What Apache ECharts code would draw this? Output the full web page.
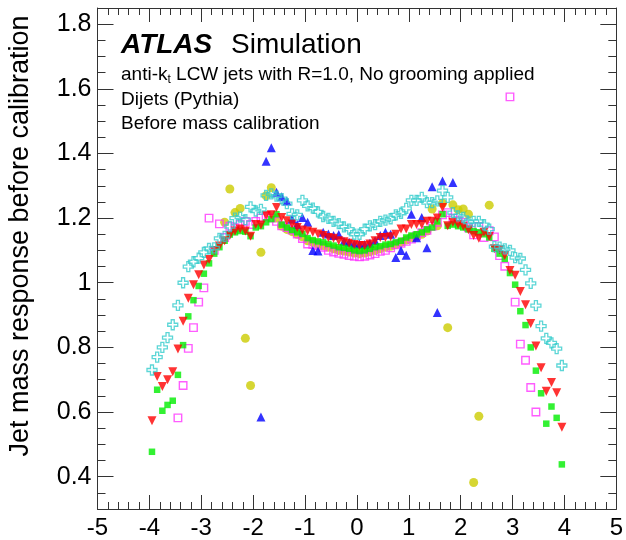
<!DOCTYPE html>
<html>
<head>
    <meta charset="utf-8" />
    <script src="https://cdn.jsdelivr.net/npm/echarts@6/dist/echarts.min.js"></script>
    <style>
        html, body { margin: 0; padding: 0; background: #fff; }
    </style>
</head>
<body>
    <div id="main" style="width:626px;height:540px;"></div>
    <script>
        // eta bin centres
        var eta = [-3.95, -3.85, -3.75, -3.65, -3.55, -3.45, -3.35, -3.25, -3.15, -3.05,
            -2.95, -2.85, -2.75, -2.65, -2.55, -2.45, -2.35, -2.25, -2.15, -2.05,
            -1.95, -1.85, -1.75, -1.65, -1.55, -1.45, -1.35, -1.25, -1.15, -1.05,
            -0.95, -0.85, -0.75, -0.65, -0.55, -0.45, -0.35, -0.25, -0.15, -0.05,
            0.05, 0.15, 0.25, 0.35, 0.45, 0.55, 0.65, 0.75, 0.85, 0.95,
            1.05, 1.15, 1.25, 1.35, 1.45, 1.55, 1.65, 1.75, 1.85, 1.95,
            2.05, 2.15, 2.25, 2.35, 2.45, 2.55, 2.65, 2.75, 2.85, 2.95,
            3.05, 3.15, 3.25, 3.35, 3.45, 3.55, 3.65, 3.75, 3.85, 3.95];

        var cyanVals = [0.730, 0.770, 0.800, 0.830, 0.870, 0.930, 1.000, 1.050, 1.065, 1.076,
            1.094, 1.106, 1.108, 1.137, 1.143, 1.174, 1.200, 1.203, 1.195, 1.235,
            1.222, 1.227, 1.270, 1.275, 1.268, 1.260, 1.245, 1.213, 1.210, 1.255,
            1.238, 1.231, 1.219, 1.205, 1.199, 1.190, 1.183, 1.173, 1.166, 1.150,
            1.150, 1.166, 1.176, 1.180, 1.190, 1.194, 1.198, 1.210, 1.215, 1.230,
            1.255, 1.255, 1.264, 1.248, 1.248, 1.253, 1.285, 1.264, 1.217, 1.207,
            1.202, 1.188, 1.190, 1.190, 1.180, 1.166, 1.112, 1.110, 1.105, 1.100,
            1.078, 1.075, 1.040, 0.998, 0.929, 0.866, 0.828, 0.814, 0.796, 0.744];

        var magentaVals = [null, null, null, null, null, 0.582, 0.682, 0.797, 0.861, 0.940,
            0.984, 1.200, 1.100, 1.182, 1.140, 1.175, 1.170, 1.180, 1.190, 1.180,
            1.190, 1.200, 1.205, 1.200, 1.190, 1.176, 1.171, 1.163, 1.151, 1.137,
            1.120, 1.118, 1.115, 1.110, 1.100, 1.095, 1.091, 1.088, 1.084, 1.082,
            1.080, 1.082, 1.086, 1.090, 1.097, 1.100, 1.108, 1.117, 1.122, 1.128,
            1.135, 1.145, 1.155, 1.162, 1.175, 1.187, 1.210, 1.217, 1.200, 1.192,
            1.187, 1.170, 1.148, 1.174, 1.140, 1.161, 1.142, 1.084, 1.051, 1.575,
            0.940, 0.810, 0.760, 0.676, 0.600, null, null, null, null, null];

        var redVals = [0.573, 0.710, 0.679, 0.700, 0.725, 0.795, 0.881, 0.952, 0.994, 1.025,
            1.055, 1.072, 1.100, 1.114, 1.130, 1.146, 1.160, 1.166, 1.160, 1.144,
            1.180, 1.179, 1.208, 1.210, 1.233, 1.202, 1.192, 1.182, 1.171, 1.163,
            1.160, 1.156, 1.151, 1.146, 1.140, 1.138, 1.130, 1.127, 1.122, 1.118,
            1.115, 1.115, 1.120, 1.130, 1.140, 1.140, 1.142, 1.150, 1.166, 1.166,
            1.180, 1.180, 1.180, 1.190, 1.190, 1.200, 1.233, 1.176, 1.187, 1.180,
            1.175, 1.164, 1.146, 1.138, 1.156, 1.143, 1.105, 1.102, 1.084, 1.038,
            1.023, 0.973, 0.932, 0.874, 0.804, 0.737, 0.664, 0.691, 0.660, 0.553];

        var greenVals = [0.477, 0.669, 0.604, 0.622, 0.635, 0.715, 0.807, 0.896, 0.946, 0.990,
            1.028, 1.060, 1.090, 1.110, 1.130, 1.149, 1.156, 1.160, 1.158, 1.144,
            1.171, 1.175, 1.187, 1.197, 1.212, 1.180, 1.171, 1.163, 1.156, 1.151,
            1.138, 1.132, 1.128, 1.125, 1.120, 1.115, 1.110, 1.108, 1.105, 1.100,
            1.098, 1.100, 1.105, 1.110, 1.113, 1.118, 1.120, 1.125, 1.130, 1.140,
            1.146, 1.150, 1.156, 1.165, 1.171, 1.190, 1.212, 1.176, 1.180, 1.175,
            1.171, 1.165, 1.160, 1.156, 1.150, 1.140, 1.105, 1.090, 1.074, 1.030,
            0.994, 0.912, 0.869, 0.800, 0.728, 0.658, 0.564, 0.617, 0.582, 0.438];

        var blueEta = [-1.85, -1.75, -1.65, -1.55, -1.45, -1.35, -1.25, -1.15, -1.05, -0.95,
            -0.85, -0.75, -0.65, -0.55, -0.45, -0.35, -0.25, -0.15, -0.05, 0.05,
            0.15, 0.25, 0.35, 0.45, 0.55, 0.65, 0.75, 0.85, 0.95, 1.05,
            1.15, 1.25, 1.35, 1.45, 1.55, 1.65, 1.85];
        var blueVals = [0.585, 1.376, 1.418, 1.280, 1.266, 1.253, 1.197, 1.180, 1.202, 1.187,
            1.100, 1.098, 1.156, 1.151, 1.146, 1.149, 1.128, 1.125, 1.120, 1.120,
            1.118, 1.122, 1.130, 1.146, 1.156, 1.150, 1.078, 1.100, 1.085, 1.212,
            1.139, 1.202, 1.108, 1.297, 0.908, 1.315, 1.310];

        var oliveEta = [-2.55, -2.45, -2.35, -2.25, -2.15, -2.05, -1.85, -1.75, -1.65, -1.55,
            -1.45, -1.35, -1.25, -1.15, -1.05, -0.95, -0.85, -0.75, -0.65, -0.55,
            -0.45, -0.35, -0.25, -0.15, -0.05, 0.05, 0.15, 0.25, 0.35, 0.45,
            0.55, 0.65, 0.75, 0.85, 0.95, 1.05, 1.15, 1.25, 1.35, 1.45,
            1.55, 1.65, 1.75, 1.85, 1.95, 2.05, 2.15, 2.25, 2.35, 2.55];
        var oliveVals = [1.187, 1.290, 1.217, 1.230, 0.828, 0.682, 1.094, 1.269, 1.294, 1.200,
            1.175, 1.165, 1.158, 1.150, 1.142, 1.130, 1.125, 1.120, 1.115, 1.110,
            1.105, 1.100, 1.098, 1.095, 1.092, 1.090, 1.092, 1.096, 1.100, 1.105,
            1.110, 1.113, 1.118, 1.125, 1.132, 1.140, 1.145, 1.150, 1.160, 1.228,
            1.176, 1.246, 0.861, 1.241, 1.226, 1.228, 1.212, 0.382, 0.587, 1.240];

        var yMajor = [0.4, 0.6, 0.8, 1.0, 1.2, 1.4, 1.6, 1.8];
        var yMinor = [0.3, 0.35, 0.4, 0.45, 0.5, 0.55, 0.6, 0.65, 0.7, 0.75, 0.8, 0.85, 0.9, 0.95,
            1.0, 1.05, 1.1, 1.15, 1.2, 1.25, 1.3, 1.35, 1.4, 1.45, 1.5, 1.55, 1.6, 1.65,
            1.7, 1.75, 1.8, 1.85];

        function pairs(xs, ys) {
            var out = [];
            for (var i = 0; i < xs.length; i++) {
                if (ys[i] != null) out.push([xs[i], ys[i]]);
            }
            return out;
        }

        var FONT = 'Liberation Sans, Arial, Helvetica, sans-serif';
        var axisCol = '#333';
        var crossPath = 'path://M3.5,0H6.5V3.5H10V6.5H6.5V10H3.5V6.5H0V3.5H3.5Z';

        function xAx(pos, labels) {
            return {
                type: 'value', position: pos, min: -5, max: 5, interval: 1,
                axisLine: { show: true, onZero: false, lineStyle: { color: axisCol, width: 1 } },
                axisTick: { show: true, inside: true, length: 14, lineStyle: { color: axisCol } },
                minorTick: { show: true, splitNumber: 5, length: 7, lineStyle: { color: axisCol } },
                axisLabel: { show: labels, fontSize: 24, margin: 7, color: '#000', fontFamily: FONT },
                splitLine: { show: false }, minorSplitLine: { show: false }
            };
        }
        function yAx(pos, ticks, len, labels, line) {
            return {
                type: 'value', position: pos, min: 0.3, max: 1.85,
                axisLine: { show: line, onZero: false, lineStyle: { color: axisCol, width: 1 } },
                axisTick: { show: true, inside: true, length: len, customValues: ticks, lineStyle: { color: axisCol } },
                axisLabel: { show: labels, customValues: yMajor, fontSize: 25, margin: 6, color: '#000', fontFamily: FONT },
                splitLine: { show: false }
            };
        }

        var myChart = echarts.init(document.getElementById('main'));

        var option = {
            animation: false,
            backgroundColor: '#fff',
            grid: { left: 97.5, right: 9, top: 8, bottom: 28.5, containLabel: false },
            xAxis: [xAx('bottom', true), xAx('top', false)],
            yAxis: [
                yAx('left', yMajor, 16, true, true),
                yAx('left', yMinor, 8, false, false),
                yAx('right', yMajor, 16, false, true),
                yAx('right', yMinor, 8, false, false)
            ],
            series: [
                {
                    name: 'olive', type: 'scatter', symbol: 'circle', symbolSize: 9,
                    itemStyle: { color: '#cccc00' },
                    data: pairs(oliveEta, oliveVals)
                },
                {
                    name: 'magenta', type: 'scatter', symbol: 'rect', symbolSize: 7.5,
                    itemStyle: { color: 'rgba(255,255,255,0)', borderColor: '#ff33ff', borderWidth: 1.4 },
                    data: pairs(eta, magentaVals)
                },
                {
                    name: 'blue', type: 'scatter', symbol: 'triangle', symbolSize: 9,
                    itemStyle: { color: '#0000ff' },
                    data: pairs(blueEta, blueVals)
                },
                {
                    name: 'green', type: 'scatter', symbol: 'rect', symbolSize: 6.5,
                    itemStyle: { color: '#00ee00' },
                    data: pairs(eta, greenVals)
                },
                {
                    name: 'red', type: 'scatter', symbol: 'triangle', symbolRotate: 180, symbolSize: 9,
                    itemStyle: { color: '#ff0000' },
                    data: pairs(eta, redVals)
                },
                {
                    name: 'cyan', type: 'scatter', symbol: crossPath, symbolSize: 10,
                    itemStyle: { color: 'rgba(255,255,255,0)', borderColor: '#33cccc', borderWidth: 1.3 },
                    data: pairs(eta, cyanVals)
                }
            ],
            graphic: [
                {
                    type: 'text', x: 121, y: 45,
                    style: { text: 'ATLAS', font: 'italic bold 28px ' + FONT, fill: '#000', verticalAlign: 'middle' }
                },
                {
                    type: 'text', x: 231, y: 45,
                    style: { text: 'Simulation', font: '28px ' + FONT, fill: '#000', verticalAlign: 'middle' }
                },
                {
                    type: 'text', x: 121, y: 75,
                    style: {
                        text: 'anti-k{sub|t} LCW jets with R=1.0, No grooming applied',
                        font: '19px ' + FONT, fill: '#000', verticalAlign: 'middle',
                        rich: { sub: { fontSize: 12, fontFamily: FONT, padding: [10, 0, 0, 0] } }
                    }
                },
                {
                    type: 'text', x: 121, y: 99.5,
                    style: { text: 'Dijets (Pythia)', font: '19px ' + FONT, fill: '#000', verticalAlign: 'middle' }
                },
                {
                    type: 'text', x: 121, y: 124,
                    style: { text: 'Before mass calibration', font: '19px ' + FONT, fill: '#000', verticalAlign: 'middle' }
                },
                {
                    type: 'text', x: 21, y: 236, rotation: Math.PI / 2,
                    style: {
                        text: 'Jet mass response before calibration', font: '27px ' + FONT, fill: '#000',
                        align: 'center', verticalAlign: 'middle'
                    }
                }
            ]
        };

        myChart.setOption(option);
    </script>
</body>
</html>
